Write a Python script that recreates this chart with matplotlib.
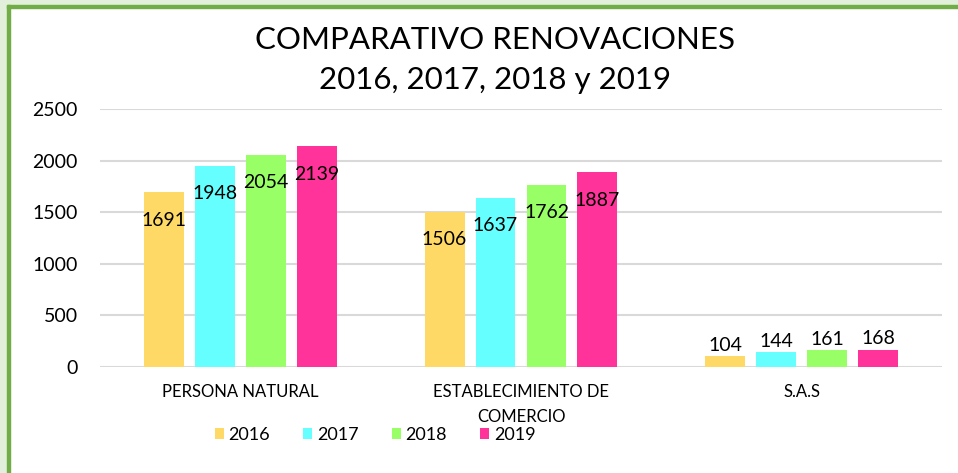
import matplotlib
matplotlib.use("Agg")
import matplotlib.pyplot as plt
import numpy as np
from matplotlib.patches import Rectangle

categories = ["PERSONA NATURAL", "ESTABLECIMIENTO DE\nCOMERCIO", "S.A.S"]
years = ["2016", "2017", "2018", "2019"]
values = {
    "2016": [1691, 1506, 104],
    "2017": [1948, 1637, 144],
    "2018": [2054, 1762, 161],
    "2019": [2139, 1887, 168],
}
colors = ["#FFD966", "#66FFFF", "#99FF66", "#FF3399"]
yticks = [0, 500, 1000, 1500, 2000, 2500]

FONT = "Lato"
W, H = 958, 473
fig = plt.figure(figsize=(W / 100, H / 100), dpi=100)
fig.patch.set_facecolor("white")

# outer frame decoration
fig.patches.append(Rectangle((0, 0), 7 / W, 1, transform=fig.transFigure, color="#E2EFDA", zorder=0))
fig.patches.append(Rectangle((0, 1 - 5 / H), 1, 5 / H, transform=fig.transFigure, color="#E2EFDA", zorder=0))
fig.patches.append(Rectangle((7 / W, 0), 3 / W, 1 - 5 / H, transform=fig.transFigure, color="#70AD47", zorder=1))
fig.patches.append(Rectangle((7 / W, 1 - 8 / H), 1 - 7 / W, 3 / H, transform=fig.transFigure, color="#70AD47", zorder=1))

ax = fig.add_axes([100 / W, 1 - 367 / H, 842 / W, 258 / H])
ax.set_xlim(-0.5, 2.5)
ax.set_ylim(0, 2500)

x = np.arange(len(categories))
step = 0.1817
width = 0.1425
for i, (yr, c) in enumerate(zip(years, colors)):
    pos = x + (i - 1.5) * step
    ax.bar(pos, values[yr], width=width, color=c, label=yr, zorder=3)
    for px, v in zip(pos, values[yr]):
        if v > 1000:
            ax.annotate(str(v), (px, v), xytext=(0, -20), textcoords="offset points",
                        ha="center", va="center", fontsize=14, family=FONT, color="black", zorder=4)
        else:
            ax.annotate(str(v), (px, v), xytext=(0, 8), textcoords="offset points",
                        ha="center", va="center", fontsize=14, family=FONT, color="black", zorder=4)

ax.set_yticks(yticks)
ax.set_yticklabels([str(t) for t in yticks], fontsize=14, family=FONT)
ax.set_xticks(x)
ax.set_xticklabels(categories, fontsize=12, family=FONT, linespacing=1.75)
ax.tick_params(axis="both", length=0)
ax.tick_params(axis="y", pad=16)
ax.tick_params(axis="x", pad=12)
ax.grid(axis="y", color="#D9D9D9", linewidth=1.5, zorder=0)
for s in ax.spines.values():
    s.set_visible(False)

fig.text(495 / W, 1 - 40 / H, "COMPARATIVO RENOVACIONES", ha="center", va="center",
         fontsize=22.5, family=FONT, color="black")
fig.text(495 / W, 1 - 80 / H, "2016, 2017, 2018 y 2019", ha="center", va="center",
         fontsize=22.5, family=FONT, color="black")

leg = fig.legend(loc="center", bbox_to_anchor=(375 / W, 1 - 435 / H), ncol=4, frameon=False,
                 prop={"family": FONT, "size": 13}, handlelength=0.5, handleheight=0.5,
                 handletextpad=0.25, columnspacing=1.85)

fig.savefig("out.png", dpi=100, facecolor=fig.get_facecolor())
